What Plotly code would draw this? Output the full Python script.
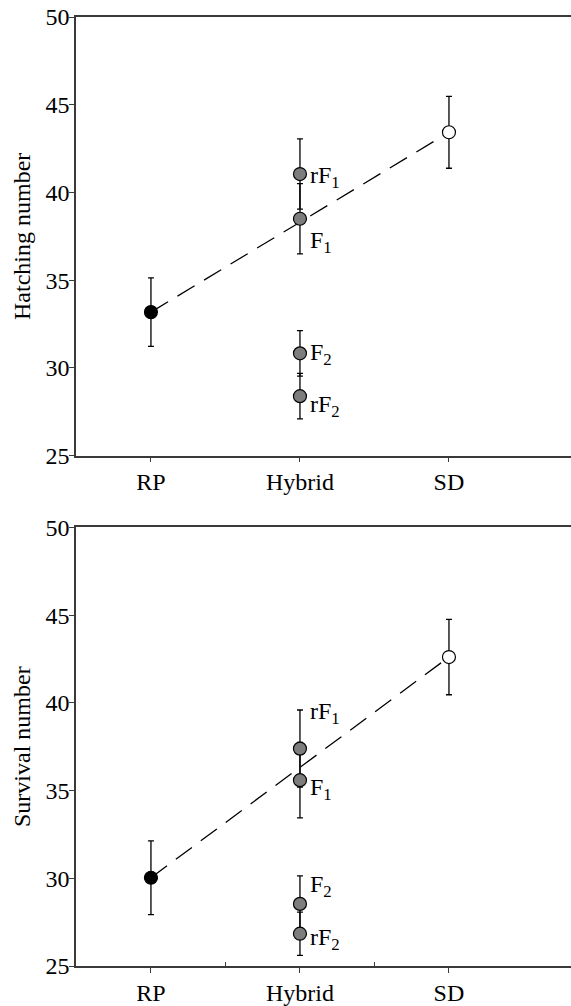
import plotly.graph_objects as go

# ---- data ----
categories = ["RP", "Hybrid", "SD"]
cat_pos = [1, 2, 3]
hybrid_groups = ["rF<sub>1</sub>", "F<sub>1</sub>", "F<sub>2</sub>", "rF<sub>2</sub>"]

hatch_parent_mean = [33.18, 43.43]      # RP, SD
hatch_parent_se = [1.95, 2.05]
hatch_hybrid_mean = [41.05, 38.5, 30.83, 28.39]   # rF1, F1, F2, rF2
hatch_hybrid_se = [2.0, 2.0, 1.3, 1.3]

surv_parent_mean = [30.03, 42.61]
surv_parent_se = [2.1, 2.15]
surv_hybrid_mean = [37.39, 35.59, 28.54, 26.84]
surv_hybrid_se = [2.2, 2.15, 1.6, 1.23]

y_ticks = [25, 30, 35, 40, 45, 50]

# label pixel offsets (style only)
hatch_label_shift = [-3, -23, -1, -10]
surv_label_shift = [36, -9, 18, -5]

FONT = "Liberation Serif, Times New Roman, serif"
FS = 24
AX = "#3a3a3a"
GRAY = "#7d7d7d"

fig = go.Figure()

def add_panel(xa, ya, pmean, pse, hmean, hse):
    fig.add_trace(go.Scatter(
        x=[cat_pos[0], cat_pos[2]], y=pmean, mode="lines",
        line=dict(color="black", width=1.3, dash="20px,11px"),
        xaxis=xa, yaxis=ya, showlegend=False, hoverinfo="skip"))
    fig.add_trace(go.Scatter(
        x=[cat_pos[1]] * len(hmean), y=hmean, mode="markers",
        marker=dict(size=13, color=GRAY, line=dict(color="black", width=1.2)),
        error_y=dict(type="data", array=hse, visible=True, color="black",
                     thickness=1.3, width=3),
        xaxis=xa, yaxis=ya, showlegend=False))
    fig.add_trace(go.Scatter(
        x=[cat_pos[0], cat_pos[2]], y=pmean, mode="markers",
        marker=dict(size=13, color=["black", "white"],
                    line=dict(color="black", width=1.2)),
        error_y=dict(type="data", array=pse, visible=True, color="black",
                     thickness=1.3, width=3),
        xaxis=xa, yaxis=ya, showlegend=False))

add_panel("x", "y", hatch_parent_mean, hatch_parent_se, hatch_hybrid_mean, hatch_hybrid_se)
add_panel("x2", "y2", surv_parent_mean, surv_parent_se, surv_hybrid_mean, surv_hybrid_se)

annotations = []
for lab, v, s in zip(hybrid_groups, hatch_hybrid_mean, hatch_label_shift):
    annotations.append(dict(x=cat_pos[1], y=v, xref="x", yref="y", text=lab,
                            showarrow=False, xanchor="left", yanchor="middle",
                            xshift=8, yshift=s, font=dict(family=FONT, size=FS, color="black")))
for lab, v, s in zip(hybrid_groups, surv_hybrid_mean, surv_label_shift):
    annotations.append(dict(x=cat_pos[1], y=v, xref="x2", yref="y2", text=lab,
                            showarrow=False, xanchor="left", yanchor="middle",
                            xshift=8, yshift=s, font=dict(family=FONT, size=FS, color="black")))

xcommon = dict(range=[0.497, 3.819], tickvals=cat_pos, ticktext=categories,
               ticks="outside", ticklen=5, tickwidth=1.3, tickcolor=AX,
               showline=True, linecolor=AX, linewidth=1.5, mirror=True,
               showgrid=False, zeroline=False, ticklabelstandoff=-1,
               tickfont=dict(family=FONT, size=FS, color="black"))
ycommon = dict(range=[25, 50], tickvals=y_ticks,
               ticks="outside", ticklen=5, tickwidth=1.3, tickcolor=AX,
               showline=True, linecolor=AX, linewidth=1.5,
               showgrid=False, zeroline=False, ticklabelstandoff=-5,
               tickfont=dict(family=FONT, size=FS, color="black"))

fig.update_layout(
    width=571, height=1006,
    margin=dict(l=76, r=0, t=17, b=37),
    paper_bgcolor="white", plot_bgcolor="white",
    font=dict(family=FONT),
    xaxis=dict(**xcommon, domain=[0, 1], anchor="y"),
    yaxis=dict(**ycommon, domain=[0.5378, 1], anchor="x",
               title=dict(text="Hatching number", standoff=8,
                          font=dict(family=FONT, size=FS, color="black"))),
    xaxis2=dict(**xcommon, domain=[0, 1], anchor="y2",
                minor=dict(tickvals=[1.5, 2.5], ticks="inside", ticklen=4,
                           tickwidth=1.2, tickcolor=AX)),
    yaxis2=dict(**ycommon, domain=[0, 0.4622], anchor="x2",
                title=dict(text="Survival number", standoff=8,
                           font=dict(family=FONT, size=FS, color="black"))),
    annotations=annotations,
)

fig.write_html("out.html")
